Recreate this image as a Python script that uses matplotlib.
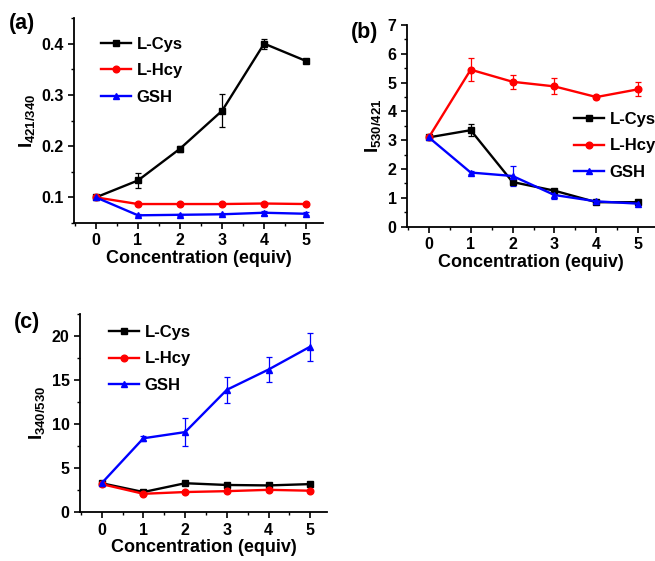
import matplotlib
matplotlib.use("Agg")
import matplotlib.pyplot as plt
from matplotlib.ticker import MultipleLocator
from matplotlib.lines import Line2D

plt.rcParams['font.family'] = ['Liberation Sans', 'DejaVu Sans']
plt.rcParams['font.weight'] = 'bold'
plt.rcParams['mathtext.fontset'] = 'custom'
plt.rcParams['mathtext.rm'] = 'Liberation Sans:bold'
plt.rcParams['mathtext.bf'] = 'Liberation Sans:bold'
plt.rcParams['mathtext.it'] = 'Liberation Sans:bold'

conc = [0, 1, 2, 3, 4, 5]
labels = ["L-Cys", "L-Hcy", "GSH"]
colors = ["black", "red", "blue"]
markers = ["s", "o", "^"]

# panel (a): I421/340
a_cys = [0.100, 0.133, 0.195, 0.269, 0.400, 0.366]
a_cys_err = [0.0, 0.015, 0.006, 0.032, 0.010, 0.004]
a_hcy = [0.100, 0.087, 0.087, 0.087, 0.088, 0.087]
a_hcy_err = [0.0, 0.002, 0.002, 0.002, 0.002, 0.002]
a_gsh = [0.100, 0.065, 0.066, 0.067, 0.070, 0.068]
a_gsh_err = [0.0, 0.002, 0.002, 0.002, 0.004, 0.003]

# panel (b): I530/421
b_cys = [3.10, 3.35, 1.55, 1.25, 0.85, 0.85]
b_cys_err = [0.0, 0.20, 0.10, 0.05, 0.05, 0.05]
b_hcy = [3.10, 5.45, 5.03, 4.87, 4.50, 4.77]
b_hcy_err = [0.0, 0.40, 0.25, 0.28, 0.08, 0.25]
b_gsh = [3.10, 1.88, 1.76, 1.10, 0.88, 0.80]
b_gsh_err = [0.0, 0.05, 0.35, 0.15, 0.05, 0.05]

# panel (c): I340/530
c_cys = [3.3, 2.3, 3.3, 3.1, 3.05, 3.2]
c_cys_err = [0.0, 0.1, 0.1, 0.1, 0.1, 0.1]
c_hcy = [3.2, 2.1, 2.3, 2.4, 2.55, 2.45]
c_hcy_err = [0.0, 0.1, 0.1, 0.1, 0.15, 0.1]
c_gsh = [3.3, 8.4, 9.1, 13.9, 16.2, 18.8]
c_gsh_err = [0.0, 0.3, 1.6, 1.5, 1.4, 1.6]

fig = plt.figure(figsize=(6.55, 5.61), dpi=100)
ax_a = fig.add_axes([0.1130, 0.6025, 0.3802, 0.3654])
ax_b = fig.add_axes([0.6214, 0.5959, 0.3786, 0.3595])
ax_c = fig.add_axes([0.1221, 0.0868, 0.3771, 0.3535])


def draw_panel(ax, series, errs, ylim, major, minor, ylabel):
    for y, e, col, mk in zip(series, errs, colors, markers):
        ax.errorbar(conc, y, yerr=e, color=col, marker=mk, markersize=4.8,
                    linewidth=1.7, elinewidth=0.9, capsize=2, capthick=0.9)
    ax.set_xlim(-0.52, 5.4)
    ax.set_ylim(*ylim)
    ax.xaxis.set_major_locator(MultipleLocator(1))
    ax.xaxis.set_minor_locator(MultipleLocator(0.5))
    ax.yaxis.set_major_locator(MultipleLocator(major))
    ax.yaxis.set_minor_locator(MultipleLocator(minor))
    ax.spines['top'].set_visible(False)
    ax.spines['right'].set_visible(False)
    for s in ['left', 'bottom']:
        ax.spines[s].set_linewidth(1.3)
    ax.tick_params(which='major', direction='out', length=4, width=1.2, labelsize=11.5)
    ax.tick_params(which='minor', direction='out', length=2, width=1.0)
    ax.set_xlabel("Concentration (equiv)", fontsize=13, fontweight='bold', labelpad=1)
    ax.set_ylabel(ylabel, fontsize=13.5, labelpad=3)


draw_panel(ax_a, [a_cys, a_hcy, a_gsh], [a_cys_err, a_hcy_err, a_gsh_err],
           (0.05, 0.45), 0.1, 0.05, r'$\mathrm{I}_{421/340}$')
draw_panel(ax_b, [b_cys, b_hcy, b_gsh], [b_cys_err, b_hcy_err, b_gsh_err],
           (0, 7), 1, 0.5, r'$\mathrm{I}_{530/421}$')
draw_panel(ax_c, [c_cys, c_hcy, c_gsh], [c_cys_err, c_hcy_err, c_gsh_err],
           (0, 22.5), 5, 2.5, r'$\mathrm{I}_{340/530}$')

ax_a.yaxis.set_major_formatter(plt.FuncFormatter(lambda v, p: f"{v:.1f}"))

handles = [Line2D([], [], color=c, marker=m, markersize=4.8, linewidth=1.7)
           for c, m in zip(colors, markers)]
leg_kw = dict(frameon=False, fontsize=12, handlelength=1.8, handletextpad=0.35,
              labelspacing=0.68, borderaxespad=0, borderpad=0)
ax_a.legend(handles, labels, loc='upper left', bbox_to_anchor=(101 / 655, 1 - 37 / 561),
            bbox_transform=fig.transFigure, **leg_kw)
ax_b.legend(handles, labels, loc='upper left', bbox_to_anchor=(574 / 655, 1 - 112 / 561),
            bbox_transform=fig.transFigure, **leg_kw)
ax_c.legend(handles, labels, loc='upper left', bbox_to_anchor=(109 / 655, 1 - 325 / 561),
            bbox_transform=fig.transFigure, **leg_kw)

fig.text(9 / 655, 1 - 13 / 561, "(a)", fontsize=15.5, fontweight='bold', va='top')
fig.text(351 / 655, 1 - 22 / 561, "(b)", fontsize=15.5, fontweight='bold', va='top')
fig.text(14 / 655, 1 - 312 / 561, "(c)", fontsize=15.5, fontweight='bold', va='top')

fig.savefig("out.png", dpi=100)
